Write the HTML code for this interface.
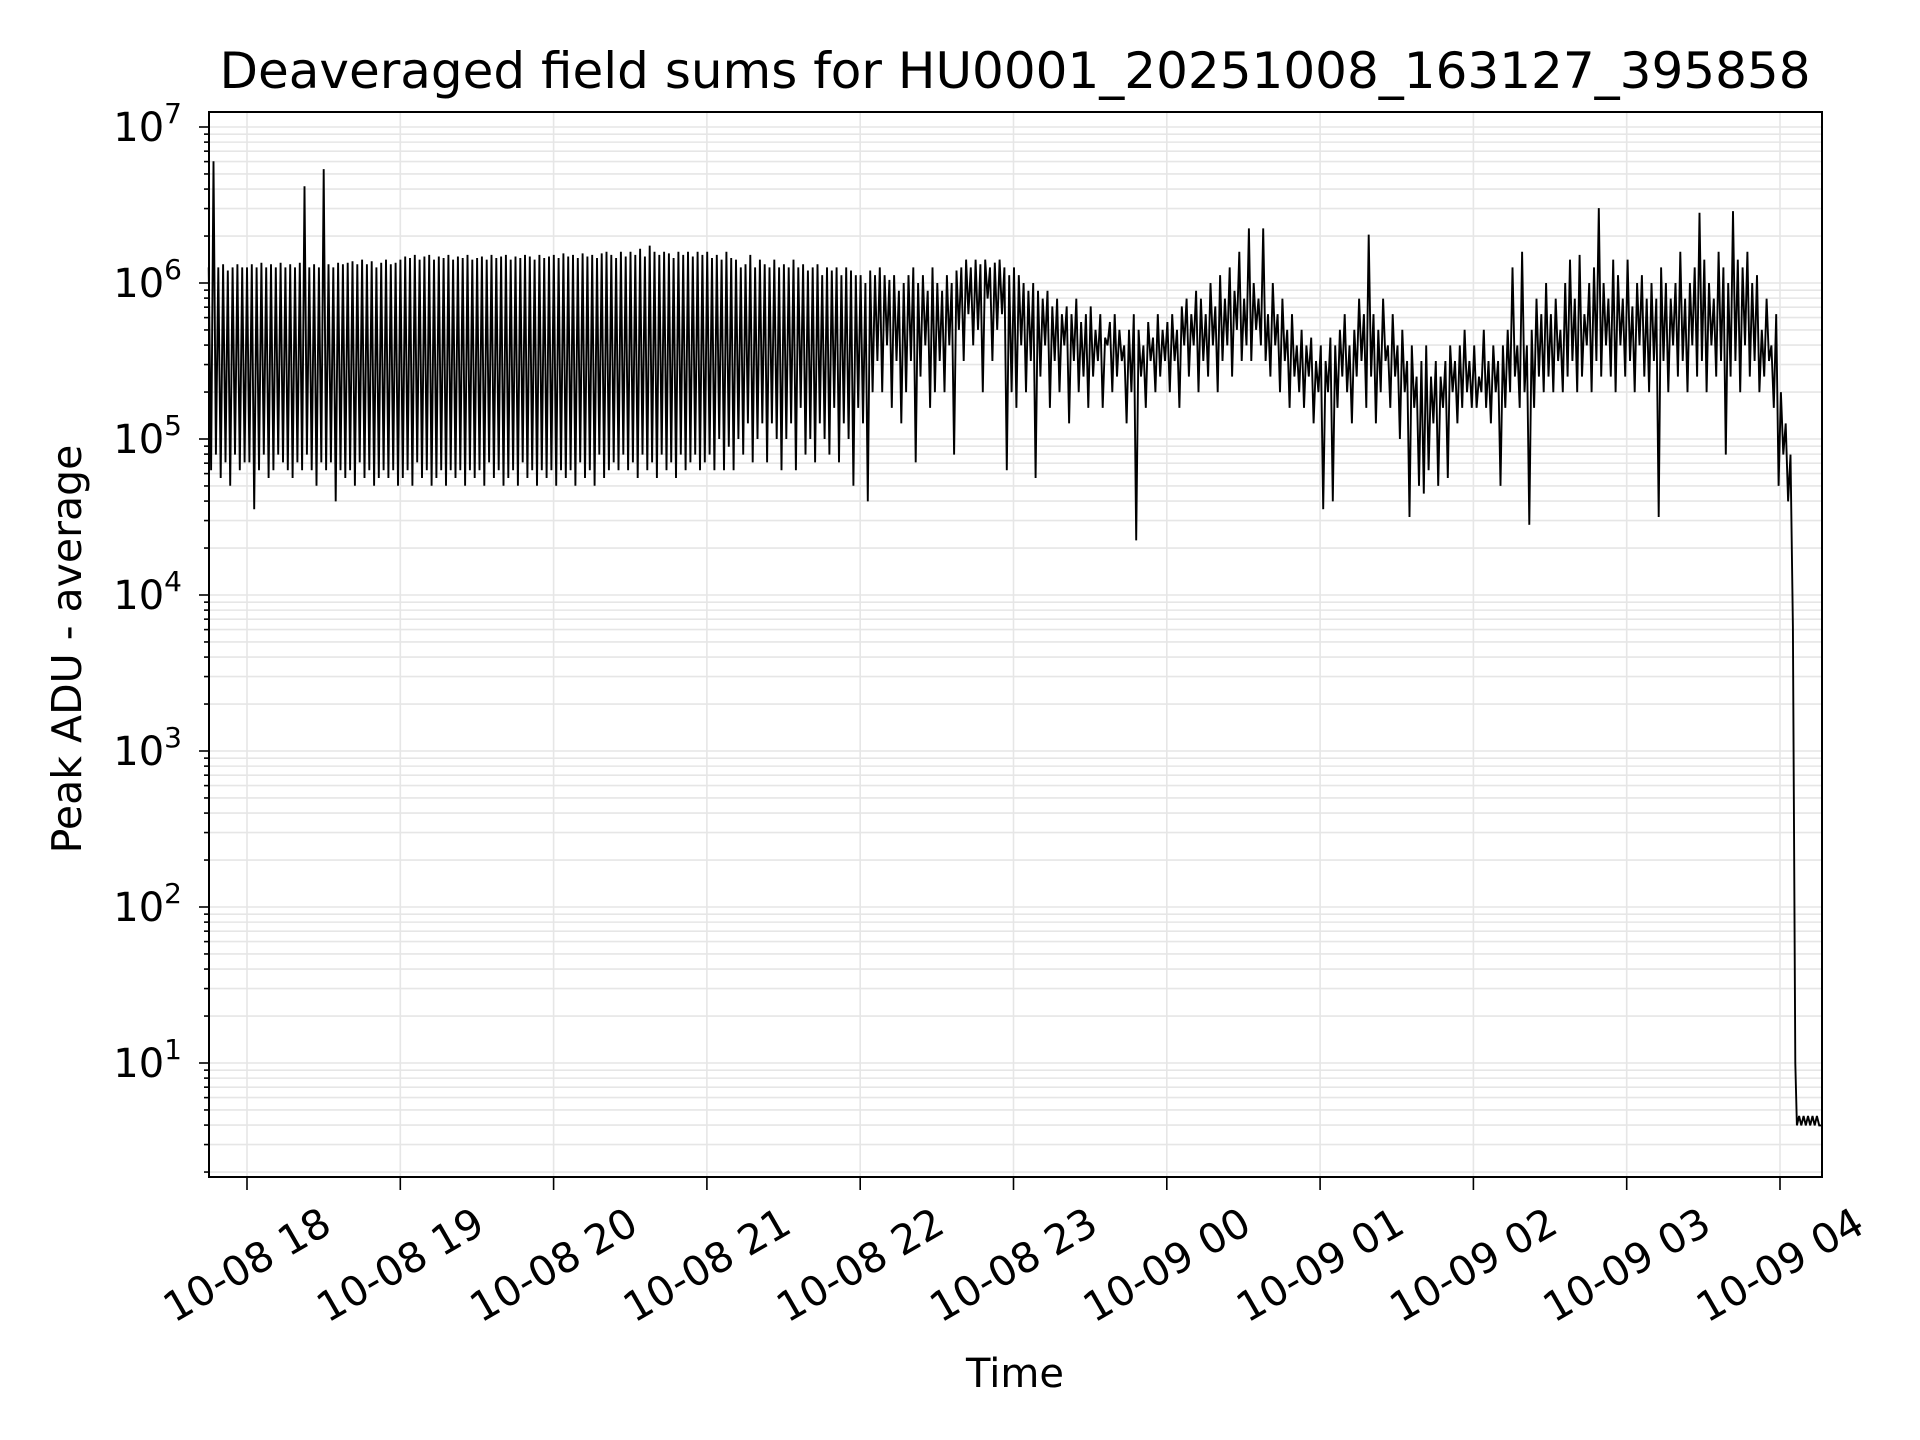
<!DOCTYPE html>
<html><head><meta charset="utf-8"><style>
html,body{margin:0;padding:0;background:#fff;}
svg{display:block;font-family:"DejaVu Sans","Liberation Sans",sans-serif;}
</style></head><body>
<svg id="chart" width="1920" height="1440" viewBox="0 0 1920 1440" xmlns="http://www.w3.org/2000/svg">
<rect x="0" y="0" width="1920" height="1440" fill="#fff"/>
<g id="grid"></g>
<polyline id="series" fill="none" stroke="#000" stroke-width="1.9" stroke-linejoin="miter"/>
<rect x="209" y="112" width="1613" height="1065" fill="none" stroke="#000" stroke-width="2"/>
<g id="axes"></g>
<text x="1015" y="88" font-size="50" text-anchor="middle">Deaveraged field sums for HU0001_20251008_163127_395858</text>
<text x="1015" y="1387" font-size="40" text-anchor="middle">Time</text>
<text transform="translate(81,649) rotate(-90)" font-size="41" text-anchor="middle">Peak ADU - average</text>
</svg>
<script>
const xTickHours = [18,19,20,21,22,23,24,25,26,27,28];
const xTickLabels = ["10-08 18","10-08 19","10-08 20","10-08 21","10-08 22","10-08 23","10-09 00","10-09 01","10-09 02","10-09 03","10-09 04"];
const yDecades = [1,2,3,4,5,6,7];
const mainStartHour = 17.75;
const mainEndHour = 28.1;
const tailStartHour = 28.11;
const tailEndHour = 28.27;
// log10 of peak ADU - average (main observing run)
const mainLog = [
6.1,4.8,6.78,4.9,6.1,4.75,6.12,4.85,6.08,4.7,6.1,4.9,6.12,4.8,6.1,4.85,
6.1,4.85,6.12,4.55,6.1,4.8,6.13,4.9,6.1,4.75,6.12,4.8,6.1,4.9,6.13,4.85,6.1,4.8,6.12,4.75,6.1,4.85,6.13,4.8,6.62,4.9,6.1,4.8,6.12,4.7,6.1,4.85,
6.73,4.8,6.12,4.85,6.1,4.6,6.13,4.8,6.12,4.75,6.13,4.8,6.14,4.7,6.12,4.85,6.15,4.75,6.12,4.8,6.14,4.7,6.1,4.75,6.13,4.8,6.15,4.75,6.12,4.8,6.13,4.7,
6.15,4.75,6.17,4.8,6.16,4.7,6.18,4.85,6.15,4.75,6.17,4.8,6.18,4.7,6.15,4.75,6.17,4.8,6.16,4.7,6.18,4.8,6.15,4.75,6.17,4.8,6.16,4.7,6.18,4.8,6.15,4.75,
6.16,4.8,6.17,4.7,6.15,4.85,6.18,4.75,6.16,4.8,6.17,4.7,6.18,4.75,6.15,4.8,6.17,4.7,6.16,4.85,6.18,4.75,6.17,4.8,6.15,4.7,6.18,4.8,6.16,4.75,6.17,4.8,
6.18,4.7,6.16,4.8,6.19,4.75,6.17,4.8,6.18,4.7,6.16,4.85,6.19,4.75,6.17,4.8,6.18,4.7,6.16,4.9,6.19,4.75,6.2,4.8,6.18,4.85,6.16,4.8,6.2,4.9,6.17,4.8,
6.2,4.85,6.18,4.75,6.22,4.9,6.17,4.8,6.24,4.85,6.2,4.75,6.18,4.9,6.2,4.8,6.19,4.85,6.16,4.75,6.2,4.9,6.18,4.8,6.2,4.85,6.17,4.9,6.2,4.8,6.18,4.85,
6.2,4.9,6.16,4.8,6.18,5.0,6.15,4.8,6.2,4.95,6.16,4.8,6.15,5.0,6.1,4.9,6.12,5.1,6.18,4.85,6.1,5.0,6.15,5.1,6.12,4.85,6.1,5.1,6.15,5.0,6.1,4.8,
6.12,5.0,6.1,5.1,6.15,4.8,6.1,5.2,6.12,4.9,6.08,5.0,6.1,4.85,6.12,5.1,6.05,5.0,6.1,4.9,6.08,5.2,6.1,4.85,6.05,5.1,6.1,5.0,6.08,4.7,6.05,5.2,
6.05,5.1,6.0,4.6,6.08,5.3,6.05,5.5,6.1,5.3,6.05,5.6,6.02,5.2,6.05,5.5,5.95,5.1,6.0,5.3,6.05,5.5,6.1,4.85,6.0,5.4,6.05,5.6,5.95,5.2,6.1,5.3,
6.0,5.5,5.95,5.3,6.05,5.6,6.0,4.9,6.08,5.7,6.1,5.5,6.15,5.8,6.1,5.6,6.15,5.7,6.12,5.3,6.15,5.9,6.1,5.5,6.13,5.7,6.15,5.8,6.1,4.8,6.05,5.3,
6.1,5.2,6.05,5.6,6.0,5.3,5.95,5.5,6.0,4.75,5.95,5.4,5.9,5.6,5.95,5.2,5.85,5.5,5.9,5.3,5.8,5.6,5.85,5.1,5.8,5.5,5.9,5.3,5.75,5.4,5.8,5.2,
5.85,5.4,5.7,5.5,5.8,5.2,5.65,5.6,5.75,5.3,5.8,5.4,5.7,5.5,5.6,5.1,5.7,5.3,5.8,4.35,5.7,5.4,5.6,5.2,5.75,5.5,5.65,5.3,5.8,5.4,5.7,5.5,
5.75,5.3,5.8,5.5,5.7,5.2,5.85,5.6,5.9,5.4,5.8,5.6,5.95,5.3,5.9,5.5,5.8,5.4,6.0,5.6,5.85,5.3,6.05,5.5,5.9,5.6,6.1,5.4,5.95,5.7,6.2,5.5,
5.9,5.6,6.35,5.5,6.0,5.7,5.9,5.6,6.35,5.5,5.8,5.4,6.0,5.6,5.8,5.3,5.9,5.5,5.7,5.2,5.8,5.4,5.6,5.3,5.7,5.2,5.6,5.4,5.65,5.1,5.5,5.3,
5.6,4.55,5.5,5.3,5.65,4.6,5.6,5.2,5.7,5.4,5.8,5.3,5.6,5.1,5.7,5.4,5.9,5.5,5.8,5.2,6.31,5.4,5.8,5.1,5.7,5.3,5.9,5.5,5.6,5.2,5.8,5.4,
5.6,5.0,5.7,5.3,5.5,4.5,5.6,5.2,5.4,4.7,5.5,4.65,5.6,4.8,5.4,5.1,5.5,4.7,5.4,5.2,5.5,4.75,5.6,5.3,5.5,5.1,5.6,5.2,5.7,5.3,5.5,5.2,
5.6,5.2,5.4,5.3,5.7,5.2,5.5,5.1,5.6,5.3,5.5,4.7,5.6,5.2,5.7,5.3,6.1,5.4,5.6,5.2,6.2,5.3,5.6,4.45,5.7,5.2,5.9,5.4,5.8,5.3,6.0,5.4,
5.8,5.3,5.9,5.5,5.7,5.3,6.0,5.4,6.15,5.5,5.9,5.3,6.18,5.4,5.8,5.6,6.0,5.3,6.1,5.5,6.48,5.4,6.0,5.6,5.9,5.4,6.15,5.3,6.05,5.6,5.9,5.4,
6.15,5.5,5.85,5.3,6.0,5.6,6.05,5.4,5.9,5.3,6.0,5.5,5.9,4.5,6.1,5.5,6.0,5.3,5.9,5.6,6.0,5.4,6.2,5.5,5.9,5.3,6.0,5.6,6.1,5.4,6.45,5.5,
6.15,5.3,6.0,5.6,5.9,5.4,6.2,5.5,6.1,4.9,6.0,5.4,6.46,5.5,6.15,5.3,6.1,5.6,6.2,5.4,6.0,5.5,6.05,5.3,5.7,5.4,5.9,5.5,5.6,5.2,5.8,4.7,
5.3,4.9,5.1,4.6,4.9,3.8,1.0
];
// log10 values after the drop (flat floor with small hatching)
const tailLog = [0.6,0.66,0.6,0.66,0.6,0.66,0.6,0.66,0.6,0.66,0.6,0.6];
const X0=209, X1=1822, Y0=112, Y1=1177;
const xScale = h => 247 + (h-18)*153.3;
const yScale = l => 127 + (7-l)*156;
const svgNS="http://www.w3.org/2000/svg";
const grid=document.getElementById('grid'), axes=document.getElementById('axes');
function mk(tag,attrs,parent){const e=document.createElementNS(svgNS,tag);for(const k in attrs)e.setAttribute(k,attrs[k]);parent.appendChild(e);return e;}
for(let d=0; d<=7; d++){
  for(let m=1;m<=9;m++){
    const l=d+Math.log10(m); const y=yScale(l);
    if(y<Y0||y>Y1) continue;
    const g=mk('line',{x1:X0,x2:X1,y1:y,y2:y,stroke:'#e6e6e6','stroke-width':1.6},grid);
    
    
    const t=mk('line',{x1:X0,x2:X0-(m===1?10:5),y1:y,y2:y,stroke:'#000','stroke-width':1.6},axes);
    
    
  }
}
yDecades.forEach(d=>{
  const y=yScale(d);
  const tx=mk('text',{x:182,y:y+14,'font-size':40,'text-anchor':'end'},axes);
  
  
  tx.textContent='10';
  const sp=mk('tspan',{dy:-18,'font-size':28},tx);
  sp.textContent=String(d);
});
xTickHours.forEach((h,i)=>{
  const x=xScale(h);
  const g=mk('line',{x1:x,x2:x,y1:Y0,y2:Y1,stroke:'#e6e6e6','stroke-width':1.6},grid);
  
  
  const t=mk('line',{x1:x,x2:x,y1:Y1,y2:Y1+13,stroke:'#000','stroke-width':1.6},axes);
  
  
  const tx=mk('text',{transform:`translate(${x},${Y1+88}) rotate(-30)`,'font-size':41,'text-anchor':'middle','dominant-baseline':'central'},axes);
  
  
  tx.textContent=xTickLabels[i];
});
const mainStep=(mainEndHour-mainStartHour)/(mainLog.length-1);
const tailStep=(tailEndHour-tailStartHour)/(tailLog.length-1);
const pts=[];
mainLog.forEach((v,i)=>pts.push(xScale(mainStartHour+i*mainStep).toFixed(1)+','+Math.min(yScale(v),Y1).toFixed(1)));
tailLog.forEach((v,i)=>pts.push(xScale(tailStartHour+i*tailStep).toFixed(1)+','+Math.min(yScale(v),Y1).toFixed(1)));
document.getElementById('series').setAttribute('points',pts.join(' '));
</script>
</body></html>
